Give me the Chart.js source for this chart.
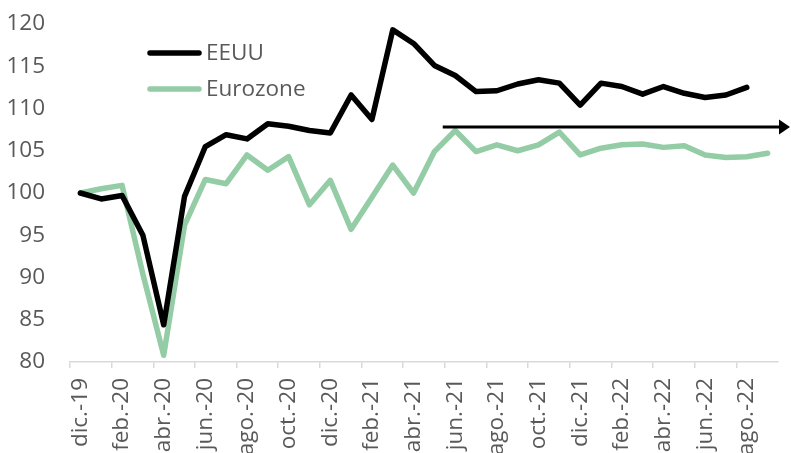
<!DOCTYPE html>
<html>
<head>
<meta charset="utf-8">
<script src="https://cdn.jsdelivr.net/npm/chart.js@4/dist/chart.umd.min.js"></script>
<style>
  html, body { margin: 0; padding: 0; background: #fff; overflow: hidden; }
  #wrap { position: relative; width: 791px; height: 461px; }
</style>
</head>
<body>
<div id="wrap"><canvas id="chart"></canvas></div>
<script>
// Data (index, dic.-19 = 100)
const months = [
  "dic.-19", "ene.-20", "feb.-20", "mar.-20", "abr.-20", "may.-20", "jun.-20", "jul.-20",
  "ago.-20", "sep.-20", "oct.-20", "nov.-20", "dic.-20", "ene.-21", "feb.-21", "mar.-21",
  "abr.-21", "may.-21", "jun.-21", "jul.-21", "ago.-21", "sep.-21", "oct.-21", "nov.-21",
  "dic.-21", "ene.-22", "feb.-22", "mar.-22", "abr.-22", "may.-22", "jun.-22", "jul.-22",
  "ago.-22", "sep.-22"
];
const eeuu = [
  100.0, 99.3, 99.7, 95.0, 84.4, 99.6, 105.5, 106.9,
  106.4, 108.2, 107.9, 107.4, 107.1, 111.6, 108.7, 119.3,
  117.7, 115.1, 113.9, 112.0, 112.1, 112.9, 113.4, 113.0,
  110.4, 113.0, 112.6, 111.7, 112.6, 111.8, 111.3, 111.6,
  112.5, null
];
const eurozone = [
  100.0, 100.5, 100.9, 90.4, 80.8, 96.2, 101.6, 101.1,
  104.5, 102.7, 104.3, 98.6, 101.5, 95.7, 99.5, 103.3,
  100.0, 104.9, 107.4, 104.9, 105.7, 105.0, 105.7, 107.2,
  104.5, 105.3, 105.7, 105.8, 105.4, 105.6, 104.5, 104.2,
  104.3, 104.7
];
const yTicks = [80, 85, 90, 95, 100, 105, 110, 115, 120];

// arrow annotation: level and starting position (category index)
const arrowLevel = 107.8;
const arrowStart = 17.4;

const grey = "#595959";
const green = "#93CCA5";
const fontSize = 22.5;

// legend drawn inside the plot area, plus the arrow
const extras = {
  id: "extras",
  afterDatasetsDraw(chart) {
    const c = chart.ctx;
    const x = chart.scales.x, y = chart.scales.y;
    // arrow
    const ay = y.getPixelForValue(arrowLevel);
    const ax0 = x.getPixelForValue(arrowStart);
    const ax1 = chart.chartArea.right + 12;
    c.save();
    c.strokeStyle = "#000";
    c.fillStyle = "#000";
    c.lineWidth = 3;
    c.beginPath();
    c.moveTo(ax0, ay);
    c.lineTo(ax1 - 8, ay);
    c.stroke();
    c.beginPath();
    c.moveTo(ax1, ay);
    c.lineTo(ax1 - 11, ay - 7.5);
    c.lineTo(ax1 - 11, ay + 7.5);
    c.closePath();
    c.fill();
    c.restore();

    // legend
    c.save();
    c.font = fontSize + "px 'Open Sans'";
    c.textBaseline = "middle";
    c.lineCap = "round";
    chart.data.datasets.forEach((ds, i) => {
      const ly = 53 + i * 36;
      c.strokeStyle = ds.borderColor;
      c.lineWidth = 5.5;
      c.beginPath();
      c.moveTo(150, ly);
      c.lineTo(199, ly);
      c.stroke();
      c.fillStyle = grey;
      c.fillText(ds.label, 206, ly + 1);
    });
    c.restore();
  }
};

const ctx = document.getElementById("chart").getContext("2d");
const chart = new Chart(ctx, {
  type: "line",
  data: {
    labels: months,
    datasets: [
      {
        label: "EEUU",
        data: eeuu,
        borderColor: "#000000",
        borderWidth: 5.5,
        pointRadius: 0,
        tension: 0,
        borderJoinStyle: "round",
        borderCapStyle: "round"
      },
      {
        label: "Eurozone",
        data: eurozone,
        borderColor: green,
        borderWidth: 5.5,
        pointRadius: 0,
        tension: 0,
        borderJoinStyle: "round",
        borderCapStyle: "round"
      }
    ]
  },
  options: {
    responsive: true,
    maintainAspectRatio: false,
    animation: false,
    layout: { autoPadding: false, padding: { top: 0, right: 13, left: 0, bottom: 0 } },
    plugins: {
      legend: { display: false },
      tooltip: { enabled: false }
    },
    scales: {
      x: {
        offset: true,
        afterFit: (s) => { s.height = 99; s.paddingLeft = 0; s.paddingRight = 0; },
        grid: {
          display: true,
          offset: true,
          drawOnChartArea: false,
          drawTicks: true,
          tickLength: 6,
          tickColor: (c) => (c.index % 2 === 0 ? "#d9d9d9" : "rgba(0,0,0,0)"),
          lineWidth: 1.5
        },
        border: { display: true, color: "#d9d9d9", width: 1.5 },
        ticks: {
          autoSkip: false,
          maxRotation: 90,
          minRotation: 90,
          padding: 10,
          color: grey,
          font: { family: "'Open Sans'", size: fontSize },
          callback: function (v, i) { return i % 2 === 0 ? months[i] : ""; }
        }
      },
      y: {
        min: 80,
        max: 120,
        afterBuildTicks: (s) => { s.ticks = yTicks.map(v => ({ value: v })); },
        afterFit: (s) => { s.width = 70; s.paddingTop = 24; s.paddingBottom = 0; },
        grid: { display: false, drawTicks: false },
        border: { display: false },
        ticks: {
          padding: 25,
          color: grey,
          font: { family: "'Open Sans'", size: fontSize }
        }
      }
    }
  },
  plugins: [extras]
});
</script>
</body>
</html>
